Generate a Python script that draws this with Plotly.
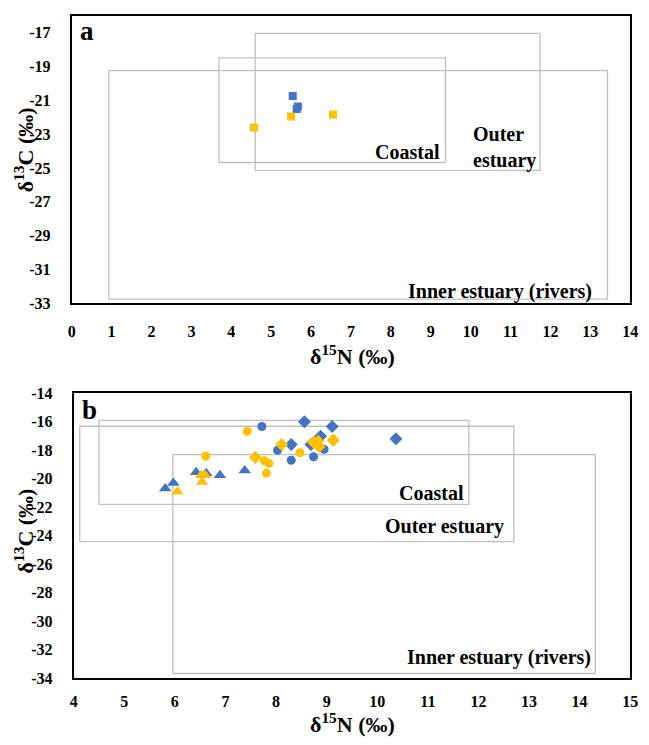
import plotly.graph_objects as go

# ---------------- data ----------------
# Panel a
a_blue_sq_x = [5.54, 5.67, 5.64]
a_blue_sq_y = [-20.74, -21.36, -21.51]
a_yel_sq_x = [5.50, 6.55, 4.57]
a_yel_sq_y = [-21.96, -21.84, -22.61]

# zones panel a: [x0, x1, y0, y1]
a_inner = [0.93, 13.43, -32.77, -19.24]
a_outer = [4.60, 11.74, -25.14, -17.04]
a_coastal = [3.69, 9.37, -24.68, -18.49]

# Panel b
b_blue_tri_x = [5.81, 5.97, 6.42, 6.62, 6.89, 7.38]
b_blue_tri_y = [-20.69, -20.30, -19.55, -19.62, -19.77, -19.43]
b_yel_tri_x = [6.05, 6.52, 6.60, 6.54]
b_yel_tri_y = [-20.92, -19.77, -19.77, -20.23]
b_blue_cir_x = [7.72, 8.03, 8.30, 8.74, 8.95]
b_blue_cir_y = [-16.35, -18.02, -18.71, -18.47, -17.95]
b_yel_cir_x = [7.43, 6.61, 7.77, 7.86, 7.81, 8.47]
b_yel_cir_y = [-16.69, -18.43, -18.75, -18.93, -19.62, -18.18]
b_blue_dia_x = [8.56, 9.11, 8.88, 8.69, 8.30, 10.37]
b_blue_dia_y = [-16.01, -16.35, -17.03, -17.61, -17.61, -17.20]
b_yel_dia_x = [7.59, 8.11, 8.74, 8.83, 8.85, 9.13]
b_yel_dia_y = [-18.52, -17.61, -17.45, -17.38, -17.77, -17.31]

b_inner = [5.96, 14.31, -33.66, -18.32]
b_outer = [4.12, 12.70, -24.41, -16.33]
b_coastal = [4.50, 11.81, -21.81, -15.92]

a_xticks = list(range(0, 15))
a_yticks = list(range(-33, -16, 2))
b_xticks = list(range(4, 16))
b_yticks = list(range(-34, -13, 2))

BLUE = "#4472C4"
YEL = "#FFC000"
FONT = "Liberation Serif, Times New Roman, serif"

fig = go.Figure()

def pts(x, y, color, symbol, size, xa, ya):
    fig.add_trace(go.Scatter(x=x, y=y, mode="markers", xaxis=xa, yaxis=ya,
                             marker=dict(color=color, symbol=symbol, size=size,
                                         line=dict(width=0)),
                             showlegend=False, hoverinfo="skip"))

pts(a_blue_sq_x, a_blue_sq_y, BLUE, "square", 8, "x", "y")
pts(a_yel_sq_x, a_yel_sq_y, YEL, "square", 8, "x", "y")

pts(b_blue_tri_x, b_blue_tri_y, BLUE, "triangle-up", 11, "x2", "y2")
pts(b_yel_tri_x, b_yel_tri_y, YEL, "triangle-up", 11, "x2", "y2")
pts(b_blue_cir_x, b_blue_cir_y, BLUE, "circle", 9, "x2", "y2")
pts(b_yel_cir_x, b_yel_cir_y, YEL, "circle", 9, "x2", "y2")
pts(b_blue_dia_x, b_blue_dia_y, BLUE, "diamond", 10, "x2", "y2")
pts(b_yel_dia_x, b_yel_dia_y, YEL, "diamond", 10, "x2", "y2")

shapes = []
for r, xr, yr in [(a_inner, "x", "y"), (a_outer, "x", "y"), (a_coastal, "x", "y"),
                  (b_inner, "x2", "y2"), (b_outer, "x2", "y2"), (b_coastal, "x2", "y2")]:
    shapes.append(dict(type="rect", xref=xr, yref=yr, x0=r[0], x1=r[1], y0=r[2], y1=r[3],
                       line=dict(color="#BFBFBF", width=1.3), layer="below"))

tickfont = dict(family=FONT, size=16, color="black", weight="bold")

def axis(rng, vals, domain, anchor, standoff):
    return dict(range=rng, tickvals=vals, ticktext=[str(v) for v in vals],
                domain=domain, anchor=anchor, showline=True, linecolor="black",
                linewidth=2, mirror=True, showgrid=False, zeroline=False,
                ticks="", tickfont=tickfont, ticklabelstandoff=standoff, fixedrange=True)

lbl = dict(family=FONT, size=20, color="black", weight="bold")
title = dict(family=FONT, size=22, color="black", weight="bold")

annotations = [
    dict(text="a", xref="paper", yref="paper", x=75/649, y=1-24/745, showarrow=False,
         xanchor="left", yanchor="middle", font=dict(family=FONT, size=27, color="black", weight="bold")),
    dict(text="b", xref="paper", yref="paper", x=77/649, y=1-411/745, showarrow=False,
         xanchor="left", yanchor="middle", font=dict(family=FONT, size=27, color="black", weight="bold")),
    dict(text="Coastal", xref="x", yref="y", x=9.28, y=-24.04, showarrow=False,
         xanchor="right", yanchor="middle", font=lbl),
    dict(text="Outer<br>estuary", xref="x", yref="y", x=10.0, y=-23.81, showarrow=False,
         xanchor="left", yanchor="middle", align="left", font=lbl),
    dict(text="Inner estuary (rivers)", xref="x", yref="y", x=13.08, y=-32.31, showarrow=False,
         xanchor="right", yanchor="middle", font=lbl),
    dict(text="Coastal", xref="x2", yref="y2", x=11.75, y=-20.99, showarrow=False,
         xanchor="right", yanchor="middle", font=lbl),
    dict(text="Outer estuary", xref="x2", yref="y2", x=12.54, y=-23.38, showarrow=False,
         xanchor="right", yanchor="middle", font=lbl),
    dict(text="Inner estuary (rivers)", xref="x2", yref="y2", x=14.27, y=-32.56, showarrow=False,
         xanchor="right", yanchor="middle", font=lbl),
    dict(text="δ<sup>15</sup>N (‰)", xref="paper", yref="paper", x=355/649, y=1-355/745,
         showarrow=False, xanchor="center", yanchor="middle", font=title),
    dict(text="δ<sup>15</sup>N (‰)", xref="paper", yref="paper", x=355/649, y=-3/745,
         showarrow=False, xanchor="center", yanchor="bottom", font=title),
    dict(text="δ<sup>13</sup>C (‰)", xref="paper", yref="paper", x=20/649, y=1-145/745,
         showarrow=False, xanchor="center", yanchor="middle", textangle=-90, font=title),
    dict(text="δ<sup>13</sup>C (‰)", xref="paper", yref="paper", x=20/649, y=1-535/745,
         showarrow=False, xanchor="center", yanchor="middle", textangle=-90, font=title),
]

fig.update_layout(
    width=649, height=745, margin=dict(l=0, r=0, t=0, b=0),
    paper_bgcolor="white", plot_bgcolor="white",
    xaxis=axis([0, 14], a_xticks, [69/649, 638/649], "y", 13),
    yaxis=axis([-33, -16], a_yticks, [1-302/745, 1-8/745], "x", 16),
    xaxis2=axis([4, 15], b_xticks, [71/649, 638/649], "y2", 7),
    yaxis2=axis([-34, -14], b_yticks, [1-686/745, 1-394/745], "x2", 16),
    shapes=shapes, annotations=annotations, showlegend=False,
)

fig.write_html("out.html")
